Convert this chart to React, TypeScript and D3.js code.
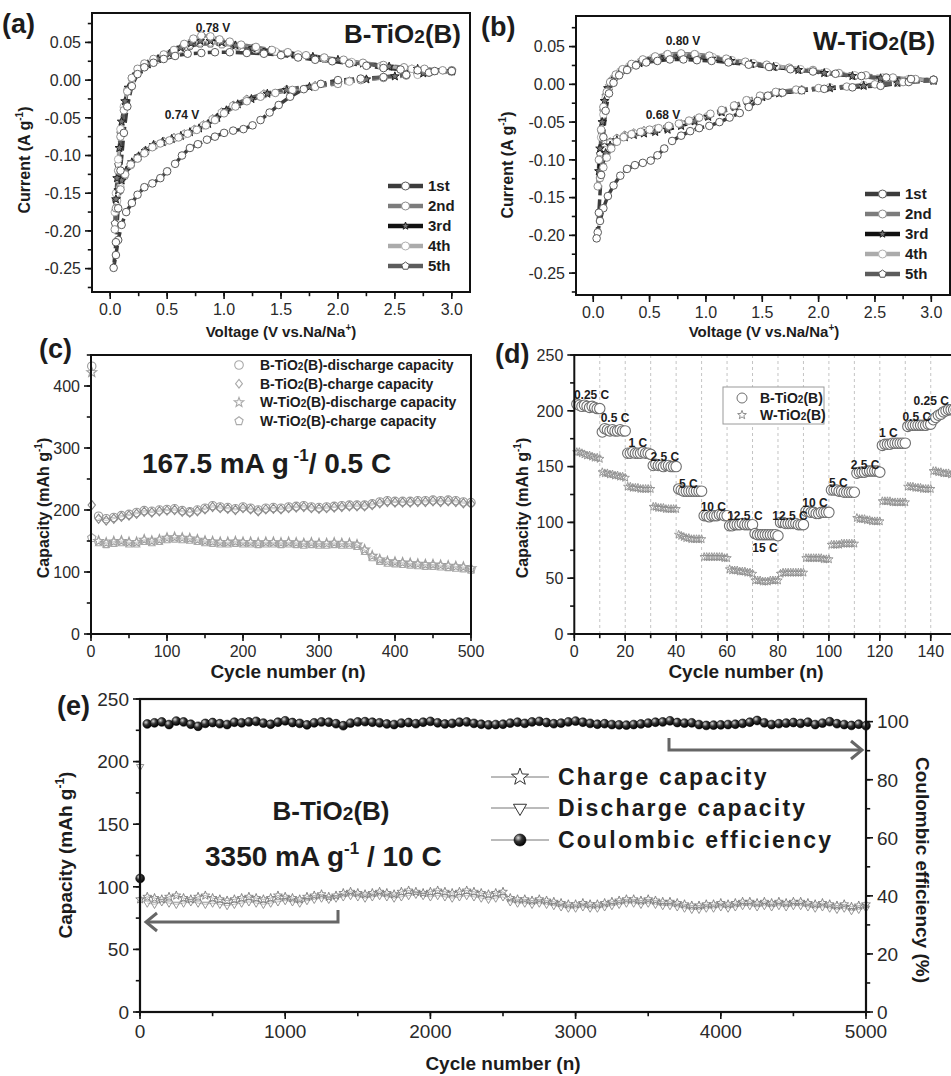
import React from 'react';
import * as d3 from 'd3';

type Pt = [number, number];

// ---------- (a) CV of B-TiO2(B): [voltage (V), current (A/g)]
const cvB1: Pt[] = [[3.00,0.012],[2.80,0.010],[2.60,0.007],[2.40,0.004],[2.20,0.002],[2.00,0.000],[1.85,-0.005],[1.70,-0.012],[1.58,-0.022],[1.48,-0.033],[1.40,-0.043],[1.32,-0.053],[1.25,-0.060],[1.17,-0.065],[1.08,-0.067],[1.00,-0.070],[0.92,-0.075],[0.85,-0.079],[0.77,-0.085],[0.70,-0.090],[0.63,-0.100],[0.57,-0.111],[0.50,-0.121],[0.44,-0.130],[0.37,-0.137],[0.30,-0.142],[0.24,-0.152],[0.19,-0.163],[0.14,-0.175],[0.10,-0.192],[0.07,-0.212],[0.05,-0.232],[0.03,-0.249],
  [0.05,-0.215],[0.07,-0.170],[0.09,-0.120],[0.12,-0.070],[0.15,-0.035],[0.19,-0.008],[0.24,0.008],[0.30,0.017],[0.38,0.023],[0.47,0.028],[0.57,0.032],[0.68,0.035],[0.80,0.036],[0.92,0.037],[1.05,0.037],[1.20,0.036],[1.35,0.035],[1.50,0.033],[1.65,0.030],[1.80,0.027],[1.95,0.025],[2.10,0.022],[2.25,0.019],[2.40,0.016],[2.55,0.014],[2.70,0.013],[2.85,0.012],[3.00,0.012]];
const cvB2: Pt[] = [[3.00,0.013],[2.80,0.010],[2.60,0.006],[2.40,0.003],[2.20,0.000],[2.00,-0.005],[1.80,-0.009],[1.60,-0.013],[1.45,-0.017],[1.32,-0.022],[1.20,-0.028],[1.10,-0.035],[1.00,-0.044],[0.92,-0.053],[0.84,-0.060],[0.76,-0.066],[0.68,-0.071],[0.60,-0.076],[0.52,-0.080],[0.44,-0.084],[0.37,-0.089],[0.30,-0.097],[0.24,-0.104],[0.18,-0.112],[0.13,-0.125],[0.09,-0.145],[0.06,-0.170],[0.04,-0.198],
  [0.05,-0.170],[0.07,-0.120],[0.09,-0.075],[0.12,-0.040],[0.15,-0.015],[0.19,0.003],[0.24,0.015],[0.30,0.022],[0.38,0.028],[0.47,0.034],[0.56,0.040],[0.65,0.048],[0.73,0.055],[0.80,0.059],[0.88,0.058],[0.96,0.054],[1.05,0.051],[1.15,0.047],[1.28,0.044],[1.42,0.040],[1.56,0.037],[1.72,0.033],[1.88,0.030],[2.05,0.027],[2.22,0.023],[2.40,0.020],[2.58,0.017],[2.76,0.015],[2.92,0.013],[3.00,0.013]];
const cvB3: Pt[] = [[3.00,0.012],[2.75,0.009],[2.50,0.005],[2.25,0.001],[2.00,-0.004],[1.75,-0.009],[1.55,-0.013],[1.38,-0.018],[1.24,-0.025],[1.12,-0.032],[1.02,-0.040],[0.94,-0.050],[0.86,-0.058],[0.78,-0.064],[0.70,-0.069],[0.62,-0.074],[0.54,-0.078],[0.46,-0.082],[0.38,-0.086],[0.31,-0.094],[0.25,-0.101],[0.19,-0.109],[0.14,-0.120],[0.10,-0.133],[0.07,-0.146],[0.05,-0.158],
  [0.06,-0.130],[0.08,-0.090],[0.10,-0.055],[0.13,-0.028],[0.16,-0.010],[0.20,0.004],[0.26,0.014],[0.33,0.021],[0.42,0.028],[0.52,0.035],[0.62,0.043],[0.71,0.049],[0.79,0.052],[0.88,0.052],[0.98,0.050],[1.10,0.046],[1.25,0.042],[1.40,0.039],[1.58,0.035],[1.78,0.031],[2.00,0.027],[2.22,0.022],[2.45,0.018],[2.70,0.015],[3.00,0.012]];
const cvB4: Pt[] = [[3.00,0.011],[2.70,0.007],[2.40,0.003],[2.10,-0.002],[1.80,-0.008],[1.55,-0.013],[1.35,-0.019],[1.20,-0.026],[1.08,-0.034],[0.98,-0.043],[0.90,-0.052],[0.82,-0.060],[0.74,-0.066],[0.65,-0.072],[0.56,-0.077],[0.47,-0.082],[0.39,-0.087],[0.31,-0.095],[0.24,-0.104],[0.18,-0.113],[0.13,-0.126],[0.09,-0.142],[0.06,-0.160],[0.04,-0.175],
  [0.05,-0.150],[0.07,-0.105],[0.09,-0.065],[0.12,-0.035],[0.15,-0.013],[0.19,0.002],[0.25,0.013],[0.32,0.020],[0.41,0.027],[0.51,0.034],[0.61,0.041],[0.70,0.047],[0.79,0.050],[0.88,0.050],[0.98,0.048],[1.12,0.045],[1.28,0.041],[1.45,0.038],[1.65,0.034],[1.88,0.029],[2.12,0.024],[2.38,0.019],[2.65,0.015],[3.00,0.011]];
const cvB5: Pt[] = [[3.00,0.012],[2.70,0.008],[2.40,0.004],[2.10,-0.001],[1.80,-0.007],[1.55,-0.012],[1.35,-0.018],[1.20,-0.025],[1.08,-0.033],[0.98,-0.042],[0.90,-0.051],[0.82,-0.059],[0.74,-0.065],[0.65,-0.071],[0.56,-0.076],[0.47,-0.081],[0.39,-0.086],[0.31,-0.093],[0.24,-0.102],[0.18,-0.112],[0.13,-0.127],[0.09,-0.146],[0.06,-0.168],[0.04,-0.190],
  [0.05,-0.160],[0.07,-0.112],[0.09,-0.070],[0.12,-0.038],[0.15,-0.014],[0.19,0.002],[0.25,0.013],[0.32,0.020],[0.41,0.027],[0.51,0.034],[0.61,0.040],[0.70,0.045],[0.79,0.048],[0.88,0.048],[0.98,0.047],[1.12,0.044],[1.28,0.040],[1.45,0.037],[1.65,0.033],[1.88,0.028],[2.12,0.023],[2.38,0.019],[2.65,0.015],[3.00,0.012]];

// ---------- (b) CV of W-TiO2(B)
const cvW1: Pt[] = [[3.02,0.006],[2.80,0.003],[2.55,-0.002],[2.30,-0.004],[2.05,-0.006],[1.85,-0.008],[1.68,-0.011],[1.55,-0.015],[1.46,-0.022],[1.38,-0.030],[1.30,-0.038],[1.21,-0.044],[1.12,-0.050],[1.03,-0.055],[0.94,-0.058],[0.86,-0.062],[0.78,-0.068],[0.70,-0.075],[0.63,-0.085],[0.57,-0.094],[0.51,-0.101],[0.44,-0.104],[0.37,-0.107],[0.30,-0.112],[0.24,-0.121],[0.18,-0.134],[0.13,-0.148],[0.09,-0.164],[0.06,-0.181],[0.04,-0.196],[0.03,-0.204],
  [0.05,-0.170],[0.07,-0.120],[0.09,-0.070],[0.11,-0.035],[0.14,-0.012],[0.18,0.002],[0.23,0.012],[0.30,0.019],[0.38,0.025],[0.47,0.029],[0.57,0.031],[0.68,0.033],[0.80,0.033],[0.92,0.032],[1.05,0.031],[1.20,0.029],[1.38,0.026],[1.56,0.023],[1.75,0.020],[1.95,0.017],[2.15,0.014],[2.38,0.011],[2.60,0.009],[2.82,0.007],[3.02,0.006]];
const cvW2: Pt[] = [[3.02,0.006],[2.75,0.003],[2.50,0.000],[2.25,-0.003],[2.00,-0.005],[1.80,-0.007],[1.62,-0.010],[1.48,-0.015],[1.36,-0.021],[1.25,-0.028],[1.14,-0.034],[1.04,-0.039],[0.94,-0.044],[0.85,-0.048],[0.76,-0.052],[0.67,-0.055],[0.58,-0.058],[0.50,-0.060],[0.42,-0.063],[0.34,-0.066],[0.27,-0.070],[0.21,-0.076],[0.16,-0.085],[0.12,-0.097],[0.09,-0.110],[0.06,-0.124],[0.04,-0.135],
  [0.05,-0.100],[0.07,-0.060],[0.09,-0.030],[0.12,-0.010],[0.15,0.003],[0.20,0.013],[0.26,0.020],[0.34,0.027],[0.44,0.033],[0.55,0.037],[0.66,0.040],[0.78,0.041],[0.90,0.040],[1.03,0.038],[1.18,0.034],[1.35,0.030],[1.54,0.026],[1.74,0.022],[1.95,0.019],[2.18,0.015],[2.42,0.012],[2.66,0.009],[2.86,0.007],[3.02,0.006]];
const cvW3: Pt[] = [[3.02,0.005],[2.70,0.002],[2.40,-0.002],[2.10,-0.005],[1.85,-0.008],[1.65,-0.012],[1.50,-0.017],[1.38,-0.023],[1.26,-0.030],[1.14,-0.037],[1.02,-0.043],[0.90,-0.049],[0.78,-0.055],[0.66,-0.060],[0.55,-0.063],[0.45,-0.065],[0.36,-0.067],[0.28,-0.070],[0.21,-0.074],[0.15,-0.081],[0.11,-0.091],[0.08,-0.102],[0.05,-0.115],
  [0.06,-0.085],[0.08,-0.050],[0.10,-0.022],[0.13,-0.005],[0.17,0.006],[0.23,0.015],[0.31,0.022],[0.41,0.028],[0.52,0.033],[0.64,0.036],[0.77,0.037],[0.90,0.036],[1.05,0.034],[1.22,0.031],[1.40,0.027],[1.60,0.023],[1.82,0.019],[2.05,0.015],[2.30,0.011],[2.55,0.008],[2.80,0.006],[3.02,0.005]];
const cvW4: Pt[] = [[3.02,0.005],[2.70,0.002],[2.40,-0.001],[2.10,-0.004],[1.85,-0.007],[1.65,-0.011],[1.50,-0.016],[1.38,-0.022],[1.26,-0.029],[1.14,-0.036],[1.02,-0.042],[0.90,-0.048],[0.78,-0.053],[0.66,-0.057],[0.55,-0.060],[0.45,-0.062],[0.36,-0.065],[0.28,-0.068],[0.21,-0.072],[0.15,-0.078],[0.10,-0.087],[0.06,-0.099],
  [0.07,-0.070],[0.09,-0.040],[0.11,-0.018],[0.14,-0.003],[0.18,0.008],[0.24,0.017],[0.32,0.024],[0.42,0.030],[0.53,0.035],[0.65,0.039],[0.78,0.040],[0.91,0.039],[1.06,0.036],[1.23,0.032],[1.42,0.028],[1.62,0.024],[1.84,0.020],[2.07,0.016],[2.32,0.012],[2.57,0.009],[2.80,0.007],[3.02,0.005]];
const cvW5: Pt[] = [[3.02,0.005],[2.70,0.002],[2.40,-0.001],[2.10,-0.004],[1.85,-0.007],[1.65,-0.011],[1.50,-0.016],[1.38,-0.022],[1.26,-0.028],[1.14,-0.035],[1.02,-0.041],[0.90,-0.047],[0.78,-0.052],[0.66,-0.056],[0.55,-0.059],[0.45,-0.061],[0.36,-0.064],[0.28,-0.067],[0.21,-0.071],[0.15,-0.076],[0.10,-0.083],[0.06,-0.092],
  [0.07,-0.062],[0.09,-0.035],[0.11,-0.015],[0.14,-0.002],[0.18,0.008],[0.24,0.016],[0.32,0.023],[0.42,0.029],[0.53,0.033],[0.65,0.037],[0.78,0.038],[0.91,0.037],[1.06,0.035],[1.23,0.031],[1.42,0.027],[1.62,0.023],[1.84,0.019],[2.07,0.015],[2.32,0.011],[2.57,0.008],[2.80,0.006],[3.02,0.005]];

const cycleNames = ['1st', '2nd', '3rd', '4th', '5th'];

// ---------- (c) cycling at 0.5 C (cycle 1, then every 10th)
const cycC = [1, ...d3.range(10, 501, 10)];
const cBdis = [432,190,186,188,191,193,196,199,198,200,201,202,199,197,200,203,207,205,204,202,205,203,200,203,204,203,205,206,207,205,204,205,206,207,208,208,208,210,213,215,214,214,214,215,215,216,215,216,215,213,212];
const cBch = [208,186,183,186,189,191,194,197,196,198,199,200,197,196,198,201,205,203,202,200,203,201,198,201,202,201,203,204,205,203,202,203,204,205,206,206,206,208,211,213,212,212,212,213,213,214,213,214,213,211,210];
const cWdis = [422,150,147,149,150,148,148,152,150,152,155,156,155,154,152,150,149,148,148,149,148,148,147,148,148,147,148,147,146,147,146,146,147,146,146,144,136,126,120,117,116,115,114,113,112,112,111,110,109,108,106];
const cWch = [155,148,145,147,148,146,146,150,148,150,153,154,153,152,150,148,147,146,146,147,146,146,145,146,146,145,146,145,144,145,144,144,145,144,144,142,134,124,118,115,114,113,112,111,110,110,109,108,107,106,104];
const legendC = ['B-TiO2(B)-discharge capacity', 'B-TiO2(B)-charge capacity', 'W-TiO2(B)-discharge capacity', 'W-TiO2(B)-charge capacity'];

// ---------- (d) rate capability, cycles 1..150
const dB = [
  206,205,204,205,204,203,204,203,202,202,
  181,184,183,182,183,182,182,183,182,182,
  162,162,163,162,162,162,163,162,162,161,
  151,152,151,151,150,151,151,150,150,150,
  130,129,128,128,128,128,128,128,128,128,
  106,106,105,106,106,106,107,107,106,106,
  97,97,98,98,98,99,98,98,98,98,
  90,89,89,89,89,89,89,89,89,88,
  100,100,99,99,99,99,99,98,98,98,
  110,110,109,109,108,108,109,109,109,109,
  129,129,129,128,128,127,127,127,127,127,
  144,145,145,145,146,146,146,146,146,145,
  169,170,170,170,171,171,171,171,171,171,
  186,187,187,187,187,187,187,187,188,188,
  192,194,196,197,199,200,201,201,201,201];
const dW = [
  163,163,162,161,160,160,159,158,158,157,
  145,144,144,143,143,142,142,141,141,140,
  132,132,131,131,131,130,130,130,130,130,
  114,114,113,113,113,112,112,112,112,112,
  89,88,87,86,86,85,85,85,85,85,
  69,69,69,69,69,69,69,69,68,68,
  58,57,57,57,56,56,56,55,55,54,
  48,48,48,47,47,47,48,48,48,48,
  54,55,55,55,55,55,55,55,55,55,
  68,68,68,68,68,68,68,67,67,67,
  80,80,80,80,81,81,81,81,81,81,
  104,103,103,103,102,102,101,101,101,101,
  119,119,119,119,118,118,118,118,118,118,
  132,132,132,131,131,131,130,130,130,130,
  146,146,145,145,144,144,144,143,143,143];
const rates = ['0.25 C','0.5 C','1 C','2.5 C','5 C','10 C','12.5 C','15 C','12.5 C','10 C','5 C','2.5 C','1 C','0.5 C','0.25 C'];
// label anchors in data units: [cycle, capacity]
const rateAt: Pt[] = [[6.8,214],[16,194],[25,171.5],[35.6,159],[44.8,135],[54.6,113.7],[67,106],[74.9,77],[84.7,106],[94.5,117.8],[103.7,136],[114.2,152],[123.3,180],[134.5,195],[140.2,209]];

// ---------- (e) long cycling at 10 C (cycle 1, then every 50th)
const eCharge = [90,
  92,91,90,92,93,91,90,92,93,91,
  90,89,90,91,92,91,90,91,93,92,
  91,90,92,93,94,92,93,95,96,95,
  94,95,96,95,94,96,97,96,95,96,
  97,96,95,96,97,96,95,94,95,96,
  91,90,90,89,90,89,88,87,86,86,
  87,86,86,87,88,89,90,90,89,90,
  89,88,88,87,86,85,85,86,86,87,
  86,87,88,88,87,88,87,88,87,88,
  88,87,86,87,86,85,86,84,85,86];
const eDischarge = [196,
  87,86,88,87,86,87,88,87,86,87,
  86,85,86,87,88,87,86,87,88,89,
  88,87,89,90,91,90,91,92,93,92,
  91,92,93,92,91,92,93,94,93,92,
  93,92,91,92,93,92,91,90,91,92,
  88,87,87,86,87,86,85,84,83,83,
  84,83,83,84,85,86,87,87,86,87,
  86,85,85,84,83,82,82,83,83,84,
  83,84,85,85,84,85,84,85,84,85,
  85,84,83,84,83,82,83,81,82,83];
const eCE = [46,
  99.2,99.6,99.9,99.0,100.2,99.9,99.1,98.4,99.4,99.7,
  99.3,99.0,99.8,99.6,99.9,100.1,99.5,99.1,99.8,100.3,
  99.7,99.4,98.9,99.6,99.9,99.8,99.3,98.6,99.5,99.9,
  100.0,99.8,99.6,99.2,99.0,99.5,99.7,99.3,99.8,100.1,
  99.6,99.2,99.4,99.8,99.9,99.4,99.1,98.9,99.0,99.1,
  99.5,99.8,99.4,99.9,100.1,99.7,99.3,99.5,99.9,100.2,
  99.8,99.4,99.1,99.3,99.0,98.9,98.8,99.0,99.2,99.5,
  99.8,99.9,100.3,99.7,99.5,99.6,99.0,98.7,98.8,98.9,
  99.0,99.1,99.4,99.8,100.4,99.6,99.0,99.3,99.5,99.7,
  99.4,99.8,99.0,99.5,100.0,99.3,99.0,98.7,99.1,98.6];
const eCycles = eCE.map((_, i) => (i === 0 ? 1 : i * 50));

const FONT = '"Liberation Sans", Arial, Helvetica, sans-serif';
const INK = '#1c1c1c';

const multiples = (d0: number, d1: number, step: number) => {
  const a = Math.ceil(d0 / step - 1e-9), b = Math.floor(d1 / step + 1e-9);
  return d3.range(a, b + 1).map(k => +(k * step).toFixed(6));
};

const poly = (pts: number[][]) => 'M' + pts.map(p => p[0].toFixed(2) + ',' + p[1].toFixed(2)).join('L') + 'Z';
const shapePath = (kind: string, r: number): string => {
  if (kind === 'circle') return d3.symbol(d3.symbolCircle, Math.PI * r * r)() as string;
  if (kind === 'diamond') return poly([[0, -r], [r * 0.8, 0], [0, r], [-r * 0.8, 0]]);
  if (kind === 'star') return poly(d3.range(10).map(i => {
    const a = -Math.PI / 2 + i * Math.PI / 5, rr = i % 2 ? r * 0.42 : r;
    return [rr * Math.cos(a), rr * Math.sin(a)];
  }));
  if (kind === 'pentagon') return poly(d3.range(5).map(i => {
    const a = -Math.PI / 2 + i * 2 * Math.PI / 5;
    return [r * Math.cos(a), r * Math.sin(a)];
  }));
  if (kind === 'triDown') return poly([[0, r], [-0.87 * r, -0.5 * r], [0.87 * r, -0.5 * r]]);
  return poly([[0, -r], [-0.87 * r, 0.5 * r], [0.87 * r, 0.5 * r]]);
};

const Axis = ({ side, scale, at, major, minor, fmt, fs, len = 7 }: any) => {
  const out = side === 'left' ? -1 : 1;
  return (
    <g stroke="#111" strokeWidth={1.6}>
      {minor.map((v: number, i: number) => side === 'bottom'
        ? <line key={'m' + i} x1={scale(v)} x2={scale(v)} y1={at} y2={at + len * 0.6} />
        : <line key={'m' + i} x1={at} x2={at + out * len * 0.6} y1={scale(v)} y2={scale(v)} />)}
      {major.map((v: number, i: number) => side === 'bottom'
        ? <g key={i}>
            <line x1={scale(v)} x2={scale(v)} y1={at} y2={at + len} />
            <text x={scale(v)} y={at + len + 4} dy="0.78em" textAnchor="middle" fontSize={fs} stroke="none" fill="#2a2a2a">{fmt(v)}</text>
          </g>
        : <g key={i}>
            <line x1={at} x2={at + out * len} y1={scale(v)} y2={scale(v)} />
            <text x={at + out * (len + 4)} y={scale(v)} dy="0.36em" textAnchor={side === 'left' ? 'end' : 'start'} fontSize={fs} stroke="none" fill="#2a2a2a">{fmt(v)}</text>
          </g>)}
    </g>
  );
};

const Markers = ({ pts, x, y, kind, r, stroke, fill = 'none', sw = 1 }: any) => {
  const d = shapePath(kind, r);
  return (
    <g>
      {pts.map((p: Pt, i: number) => (
        <path key={i} d={d} transform={`translate(${x(p[0]).toFixed(2)},${y(p[1]).toFixed(2)})`} fill={fill} stroke={stroke} strokeWidth={sw} />
      ))}
    </g>
  );
};

const Line = ({ pts, x, y, stroke, sw = 1, dash }: any) => {
  const d = d3.line<Pt>().x(p => x(p[0])).y(p => y(p[1]))(pts) as string;
  return <path d={d} fill="none" stroke={stroke} strokeWidth={sw} strokeDasharray={dash} />;
};

const cvStyle = [
  { kind: 'circle', line: '#3c3c3c', stroke: '#5a5a5a', fill: '#fff' },
  { kind: 'circle', line: '#7c7c7c', stroke: '#8c8c8c', fill: '#fff' },
  { kind: 'star', line: '#111', stroke: '#222', fill: '#777' },
  { kind: 'circle', line: '#ababab', stroke: '#b0b0b0', fill: '#fff' },
  { kind: 'pentagon', line: '#5c5c5c', stroke: '#555', fill: '#fff' },
];

const CVPanel = ({ cycles, x, y, box, legendX, legendY, title, titleX, titleY, titleAnchor, peaks }: any) => {
  const fmtY = (v: number) => v.toFixed(2);
  const fmtX = (v: number) => v.toFixed(1);
  const [xd0, xd1] = x.domain(), [yd0, yd1] = y.domain();
  return (
    <g>
      {cycles.map((c: Pt[], i: number) => (
        <Line key={'l' + i} pts={c} x={x} y={y} stroke={cvStyle[i].line} sw={3.5} dash="10 4" />
      ))}
      {cycles.map((c: Pt[], i: number) => (
        <Markers key={'m' + i} pts={c} x={x} y={y} kind={cvStyle[i].kind} r={cvStyle[i].kind === 'star' ? 4.5 : 3.8} stroke={cvStyle[i].stroke} fill={cvStyle[i].fill} sw={1} />
      )).reverse()}
      <rect x={box.l} y={box.t} width={box.r - box.l} height={box.b - box.t} fill="none" stroke="#111" strokeWidth={2} />
      <Axis side="left" scale={y} at={box.l} major={multiples(yd0, yd1, 0.05)} minor={multiples(yd0, yd1, 0.025)} fmt={fmtY} fs={16} />
      <Axis side="bottom" scale={x} at={box.b} major={multiples(Math.max(0, xd0), xd1, 0.5)} minor={multiples(xd0, xd1, 0.25)} fmt={fmtX} fs={16} />
      {cycleNames.map((n, i) => {
        const ly = legendY + i * 20;
        return (
          <g key={n}>
            <line x1={legendX} x2={legendX + 35} y1={ly} y2={ly} stroke={cvStyle[i].line} strokeWidth={4.5} />
            <path d={shapePath(cvStyle[i].kind, 4)} transform={`translate(${legendX + 17.5},${ly})`} fill={cvStyle[i].fill} stroke={cvStyle[i].stroke} />
            <text x={legendX + 40} y={ly} dy="0.36em" fontSize={15} fontWeight="bold" fill={INK}>{n}</text>
          </g>
        );
      })}
      <text x={titleX} y={titleY} textAnchor={titleAnchor} fontSize={26} fontWeight="bold" fill={INK}>
        {title}-TiO<tspan fontSize={19}>2</tspan>(B)
      </text>
      {peaks.map((p: any, i: number) => (
        <text key={i} x={p.x} y={p.y} textAnchor="middle" fontSize={12} fontWeight="bold" fill={INK}>{p.t}</text>
      ))}
    </g>
  );
};

export default function App() {
  // panel (a)
  const ax = d3.scaleLinear([-0.16, 3.16], [92, 470]);
  const ay = d3.scaleLinear([-0.281, 0.089], [292, 13]);
  // panel (b)
  const bx = d3.scaleLinear([-0.153, 3.166], [576, 950]);
  const by = d3.scaleLinear([-0.279, 0.0905], [295, 16]);
  // panel (c)
  const cx = d3.scaleLinear([0, 500], [91, 471]);
  const cy = d3.scaleLinear([0, 450], [634, 355]);
  // panel (d)
  const dx = d3.scaleLinear([0, 150], [574.3, 956.2]);
  const dy = d3.scaleLinear([0, 250], [634, 355]);
  // panel (e)
  const ex = d3.scaleLinear([0, 5000], [140, 866]);
  const eyL = d3.scaleLinear([0, 250], [1012, 699]);
  const eyR = d3.scaleLinear([0, 107.8], [1012, 699]);

  const zipC = (v: number[]) => v.map((d, i) => [cycC[i], d] as Pt);
  const zipD = (v: number[]) => v.map((d, i) => [i + 1, d] as Pt);
  const zipE = (v: number[]) => v.map((d, i) => [eCycles[i], d] as Pt);

  const cSeries = [
    { pts: zipC(cBdis), kind: 'circle', r: 4.2, stroke: '#9a9a9a' },
    { pts: zipC(cBch), kind: 'diamond', r: 4.6, stroke: '#8a8a8a' },
    { pts: zipC(cWdis), kind: 'star', r: 5.2, stroke: '#9c9c9c' },
    { pts: zipC(cWch), kind: 'pentagon', r: 4.4, stroke: '#a8a8a8' },
  ];

  const intFmt = (v: number) => String(v);
  const bold = { fontWeight: 'bold' as const, fill: INK };

  return (
    <svg width={951} height={1076} style={{ position: 'absolute', left: 0, top: 0, background: '#fff' }} fontFamily={FONT}>
      <defs>
        <radialGradient id="sphere" cx="35%" cy="32%" r="70%">
          <stop offset="0%" stopColor="#d8d8d8" />
          <stop offset="45%" stopColor="#333" />
          <stop offset="100%" stopColor="#000" />
        </radialGradient>
      </defs>
      <rect width={951} height={1076} fill="#fff" />

      {/* ---------------- (a) ---------------- */}
      <CVPanel cycles={[cvB1, cvB2, cvB3, cvB4, cvB5]} x={ax} y={ay} box={{ l: 92, r: 470, t: 13, b: 292 }}
        legendX={388} legendY={186} title="B" titleX={461} titleY={43} titleAnchor="end"
        peaks={[{ x: 213, y: 32, t: '0.78 V' }, { x: 182, y: 119, t: '0.74 V' }]} />
      <text x={2} y={33} fontSize={27} {...bold}>(a)</text>
      <text x={281} y={337} textAnchor="middle" fontSize={15} {...bold}>Voltage (V vs.Na/Na<tspan dy={-6} fontSize={10}>+</tspan><tspan dy={6}>)</tspan></text>
      <text transform="translate(30,160) rotate(-90)" textAnchor="middle" fontSize={16} {...bold}>Current (A g<tspan dy={-7} fontSize={10}>-1</tspan><tspan dy={7}>)</tspan></text>

      {/* ---------------- (b) ---------------- */}
      <CVPanel cycles={[cvW1, cvW2, cvW3, cvW4, cvW5]} x={bx} y={by} box={{ l: 576, r: 950, t: 16, b: 295 }}
        legendX={865} legendY={194} title="W" titleX={813} titleY={50} titleAnchor="start"
        peaks={[{ x: 683, y: 45, t: '0.80 V' }, { x: 663, y: 119, t: '0.68 V' }]} />
      <text x={481} y={36} fontSize={27} {...bold}>(b)</text>
      <text x={764} y={337} textAnchor="middle" fontSize={15} {...bold}>Voltage (V vs.Na/Na<tspan dy={-6} fontSize={10}>+</tspan><tspan dy={6}>)</tspan></text>
      <text transform="translate(513,165) rotate(-90)" textAnchor="middle" fontSize={16} {...bold}>Current (A g<tspan dy={-7} fontSize={10}>-1</tspan><tspan dy={7}>)</tspan></text>

      {/* ---------------- (c) ---------------- */}
      <g>
        {cSeries.map((s, i) => <Line key={'cl' + i} pts={s.pts.slice(1)} x={cx} y={cy} stroke="#b4b4b4" sw={0.8} />)}
        {cSeries.map((s, i) => <Markers key={'cm' + i} pts={s.pts} x={cx} y={cy} kind={s.kind} r={s.r} stroke={s.stroke} sw={1.1} />)}
        <rect x={91} y={355} width={380} height={279} fill="none" stroke="#111" strokeWidth={2} />
        <Axis side="left" scale={cy} at={91} major={multiples(0, 450, 100)} minor={multiples(0, 450, 50)} fmt={intFmt} fs={16} />
        <Axis side="bottom" scale={cx} at={634} major={multiples(0, 500, 100)} minor={multiples(0, 500, 50)} fmt={intFmt} fs={16} />
        {legendC.map((t, i) => {
          const ly = 365 + i * 18.7;
          const parts = t.split('2');
          return (
            <g key={t}>
              <path d={shapePath(cSeries[i].kind, cSeries[i].kind === 'star' ? 5 : 4.3)} transform={`translate(239,${ly})`} fill="none" stroke="#aaa" strokeWidth={1.1} />
              <text x={260} y={ly} dy="0.36em" fontSize={14} {...bold}>{parts[0]}<tspan fontSize={10}>2</tspan>{parts[1]}</text>
            </g>
          );
        })}
        <text x={142} y={473} fontSize={28} {...bold}>167.5 mA g<tspan dy={-12} fontSize={17}> -1</tspan><tspan dy={12}>/ 0.5 C</tspan></text>
      </g>
      <text x={39} y={358} fontSize={27} {...bold}>(c)</text>
      <text x={288} y={678} textAnchor="middle" fontSize={19} {...bold}>Cycle number (n)</text>
      <text transform="translate(49,508) rotate(-90)" textAnchor="middle" fontSize={16} {...bold}>Capacity (mAh g<tspan dy={-7} fontSize={10}>-1</tspan><tspan dy={7}>)</tspan></text>

      {/* ---------------- (d) ---------------- */}
      <g>
        {multiples(10, 150, 10).map(v => (
          <line key={v} x1={dx(v)} x2={dx(v)} y1={355} y2={634} stroke="#c4c4c4" strokeWidth={1} strokeDasharray="3 3" />
        ))}
        <Markers pts={zipD(dW)} x={dx} y={dy} kind="star" r={4.4} stroke="#8e8e8e" sw={0.9} />
        <Markers pts={zipD(dB)} x={dx} y={dy} kind="circle" r={5.2} stroke="#6f6f6f" fill="#fff" sw={1.1} />
        {rates.map((t, i) => (
          <text key={i} x={dx(rateAt[i][0])} y={dy(rateAt[i][1])} dy="0.36em" textAnchor="middle" fontSize={12} {...bold}>{t}</text>
        ))}
        <rect x={574.3} y={355} width={382} height={279} fill="none" stroke="#111" strokeWidth={2} />
        <Axis side="left" scale={dy} at={574.3} major={multiples(0, 250, 50)} minor={multiples(0, 250, 25)} fmt={intFmt} fs={16} />
        <Axis side="bottom" scale={dx} at={634} major={multiples(0, 140, 20)} minor={multiples(0, 150, 10)} fmt={intFmt} fs={16} />
        <rect x={723} y={387} width={101} height={37} fill="#fff" stroke="#9a9a9a" strokeWidth={1} />
        <path d={shapePath('circle', 5)} transform="translate(742,398)" fill="#fff" stroke="#6f6f6f" />
        <path d={shapePath('star', 4.6)} transform="translate(742,415)" fill="none" stroke="#8e8e8e" />
        <text x={760} y={398} dy="0.36em" fontSize={14} {...bold}>B-TiO<tspan fontSize={10}>2</tspan>(B)</text>
        <text x={760} y={415} dy="0.36em" fontSize={14} {...bold}>W-TiO<tspan fontSize={10}>2</tspan>(B)</text>
      </g>
      <text x={495} y={363} fontSize={27} {...bold}>(d)</text>
      <text x={746} y={678} textAnchor="middle" fontSize={19} {...bold}>Cycle number (n)</text>
      <text transform="translate(528,508) rotate(-90)" textAnchor="middle" fontSize={16} {...bold}>Capacity (mAh g<tspan dy={-7} fontSize={10}>-1</tspan><tspan dy={7}>)</tspan></text>

      {/* ---------------- (e) ---------------- */}
      <g>
        <Line pts={zipE(eDischarge).slice(1)} x={ex} y={eyL} stroke="#aaa" sw={0.8} />
        <Line pts={zipE(eCharge)} x={ex} y={eyL} stroke="#999" sw={0.8} />
        <Markers pts={zipE(eDischarge)} x={ex} y={eyL} kind="triDown" r={4.2} stroke="#8a8a8a" sw={0.9} />
        <Markers pts={zipE(eCharge)} x={ex} y={eyL} kind="star" r={4.6} stroke="#7a7a7a" sw={0.9} />
        <Line pts={zipE(eCE).slice(1)} x={ex} y={eyR} stroke="#222" sw={1.2} />
        {zipE(eCE).map((p, i) => (
          <circle key={i} cx={ex(p[0])} cy={eyR(p[1])} r={4.4} fill="url(#sphere)" stroke="#000" strokeWidth={0.6} />
        ))}
        <rect x={140} y={699} width={726} height={313} fill="none" stroke="#111" strokeWidth={2.2} />
        <Axis side="left" scale={eyL} at={140} major={multiples(0, 250, 50)} minor={multiples(0, 250, 25)} fmt={intFmt} fs={19} />
        <Axis side="right" scale={eyR} at={866} major={multiples(0, 100, 20)} minor={multiples(0, 105, 10)} fmt={intFmt} fs={19} />
        <Axis side="bottom" scale={ex} at={1012} major={multiples(0, 5000, 1000)} minor={multiples(0, 5000, 500)} fmt={intFmt} fs={19} />
        <g stroke="#666" strokeWidth={3} fill="none">
          <path d="M338,910 V922 H146" />
          <path d="M157,913 L146,922 L157,931" />
          <path d="M669,738 V750 H862" />
          <path d="M851,741 L862,750 L851,759" />
        </g>
        {[
          { t: 'Charge capacity', y: 777, m: 'star' },
          { t: 'Discharge capacity', y: 808, m: 'triDown' },
          { t: 'Coulombic efficiency', y: 840, m: 'sphere' },
        ].map(l => (
          <g key={l.t}>
            <line x1={491} x2={549} y1={l.y} y2={l.y} stroke="#777" strokeWidth={1} />
            {l.m === 'sphere'
              ? <circle cx={520} cy={l.y} r={6} fill="url(#sphere)" stroke="#000" strokeWidth={0.6} />
              : <path d={shapePath(l.m, l.m === 'star' ? 9 : 7.5)} transform={`translate(520,${l.y})`} fill="#fff" stroke="#333" strokeWidth={1} />}
            <text x={558} y={l.y} dy="0.36em" fontSize={23} letterSpacing={2.2} {...bold}>{l.t}</text>
          </g>
        ))}
        <text x={331} y={820} textAnchor="middle" fontSize={26} {...bold}>B-TiO<tspan fontSize={19}>2</tspan>(B)</text>
        <text x={205} y={866} fontSize={28} {...bold}>3350 mA g<tspan dy={-12} fontSize={17}>-1</tspan><tspan dy={12}> / 10 C</tspan></text>
      </g>
      <text x={57} y={715} fontSize={27} {...bold}>(e)</text>
      <text x={503} y={1070} textAnchor="middle" fontSize={19} {...bold}>Cycle number (n)</text>
      <text transform="translate(72,855) rotate(-90)" textAnchor="middle" fontSize={19} {...bold}>Capacity (mAh g<tspan dy={-8} fontSize={12}>-1</tspan><tspan dy={8}>)</tspan></text>
      <text transform="translate(916,870) rotate(90)" textAnchor="middle" fontSize={19} {...bold}>Coulombic efficiency (%)</text>
    </svg>
  );
}
